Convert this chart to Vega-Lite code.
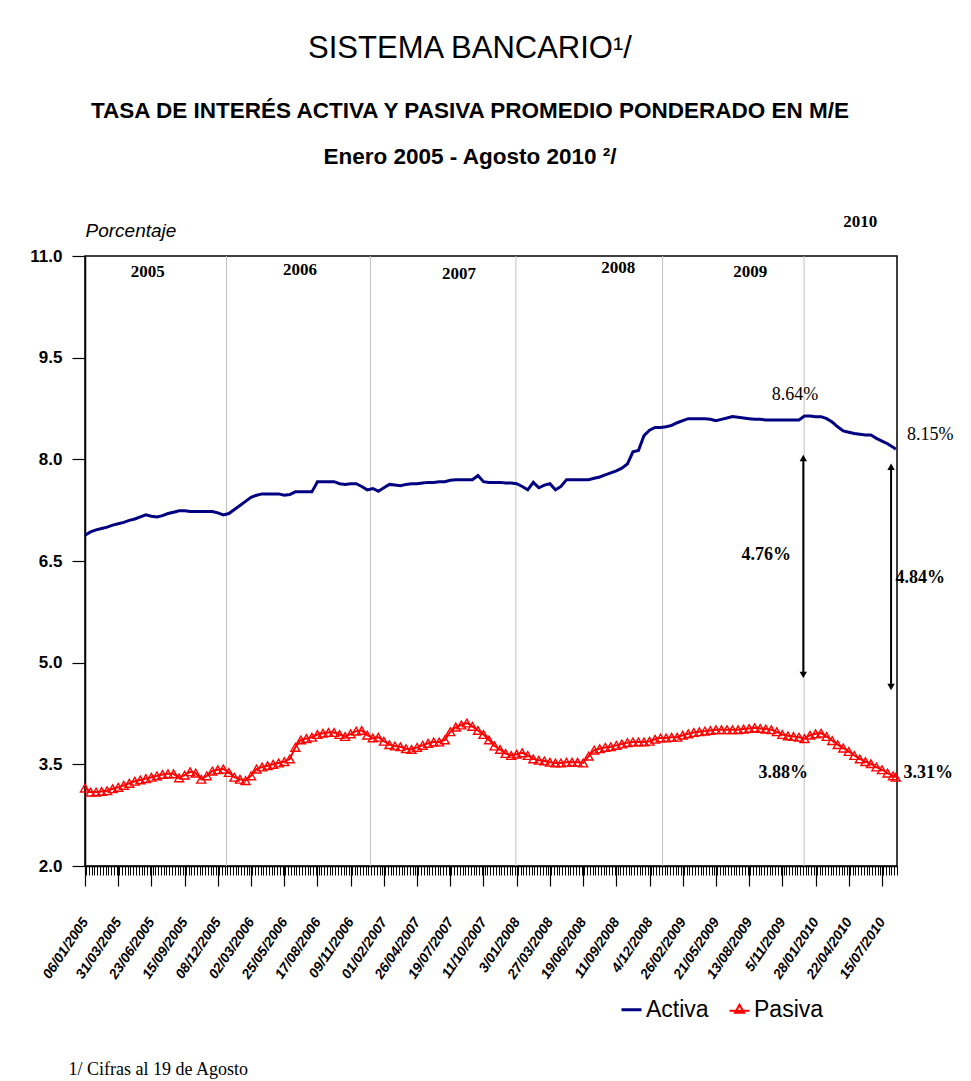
{
  "$schema": "https://vega.github.io/schema/vega-lite/v6.json",
  "width": 812,
  "height": 610,
  "autosize": {"type": "none"},
  "padding": {"left": 85, "top": 256, "right": 74, "bottom": 215},
  "background": "white",
  "config": {
    "view": {"stroke": "black", "strokeWidth": 1.5},
    "axis": {"domainColor": "black", "tickColor": "black", "labelColor": "black", "titleColor": "black"}
  },
  "title": {
    "text": "SISTEMA BANCARIO¹/",
    "subtitle": ["TASA DE INTERÉS ACTIVA Y PASIVA PROMEDIO PONDERADO EN M/E", "Enero 2005 - Agosto 2010  ²/"],
    "anchor": "middle",
    "frame": "group",
    "dx": -21,
    "font": "Liberation Sans",
    "fontSize": 31,
    "fontWeight": "normal",
    "color": "black",
    "subtitleFont": "Liberation Sans",
    "subtitleFontSize": 22.5,
    "subtitleFontWeight": "bold",
    "subtitleColor": "black",
    "subtitleLineHeight": 46,
    "subtitlePadding": 35,
    "offset": 44
  },
  "datasets": {
    "tasas": [
      {"fecha": "2005-01-06", "Activa": 6.88, "Pasiva": 3.15},
      {"fecha": "2005-01-20", "Activa": 6.93, "Pasiva": 3.09},
      {"fecha": "2005-02-03", "Activa": 6.96, "Pasiva": 3.09},
      {"fecha": "2005-02-17", "Activa": 6.98, "Pasiva": 3.10},
      {"fecha": "2005-03-03", "Activa": 7.00, "Pasiva": 3.11},
      {"fecha": "2005-03-17", "Activa": 7.03, "Pasiva": 3.14},
      {"fecha": "2005-03-31", "Activa": 7.05, "Pasiva": 3.16},
      {"fecha": "2005-04-14", "Activa": 7.07, "Pasiva": 3.19},
      {"fecha": "2005-04-28", "Activa": 7.10, "Pasiva": 3.22},
      {"fecha": "2005-05-12", "Activa": 7.12, "Pasiva": 3.25},
      {"fecha": "2005-05-26", "Activa": 7.15, "Pasiva": 3.27},
      {"fecha": "2005-06-09", "Activa": 7.18, "Pasiva": 3.29},
      {"fecha": "2005-06-23", "Activa": 7.16, "Pasiva": 3.31},
      {"fecha": "2005-07-07", "Activa": 7.15, "Pasiva": 3.33},
      {"fecha": "2005-07-21", "Activa": 7.17, "Pasiva": 3.35},
      {"fecha": "2005-08-04", "Activa": 7.20, "Pasiva": 3.36},
      {"fecha": "2005-08-18", "Activa": 7.22, "Pasiva": 3.36},
      {"fecha": "2005-09-01", "Activa": 7.24, "Pasiva": 3.30},
      {"fecha": "2005-09-15", "Activa": 7.24, "Pasiva": 3.34},
      {"fecha": "2005-09-29", "Activa": 7.23, "Pasiva": 3.39},
      {"fecha": "2005-10-13", "Activa": 7.23, "Pasiva": 3.37},
      {"fecha": "2005-10-27", "Activa": 7.23, "Pasiva": 3.28},
      {"fecha": "2005-11-10", "Activa": 7.23, "Pasiva": 3.33},
      {"fecha": "2005-11-24", "Activa": 7.23, "Pasiva": 3.40},
      {"fecha": "2005-12-08", "Activa": 7.21, "Pasiva": 3.42},
      {"fecha": "2005-12-22", "Activa": 7.18, "Pasiva": 3.43},
      {"fecha": "2006-01-05", "Activa": 7.20, "Pasiva": 3.38},
      {"fecha": "2006-01-19", "Activa": 7.26, "Pasiva": 3.31},
      {"fecha": "2006-02-02", "Activa": 7.32, "Pasiva": 3.28},
      {"fecha": "2006-02-16", "Activa": 7.38, "Pasiva": 3.26},
      {"fecha": "2006-03-02", "Activa": 7.44, "Pasiva": 3.33},
      {"fecha": "2006-03-16", "Activa": 7.47, "Pasiva": 3.43},
      {"fecha": "2006-03-30", "Activa": 7.49, "Pasiva": 3.46},
      {"fecha": "2006-04-13", "Activa": 7.49, "Pasiva": 3.48},
      {"fecha": "2006-04-27", "Activa": 7.49, "Pasiva": 3.50},
      {"fecha": "2006-05-11", "Activa": 7.49, "Pasiva": 3.52},
      {"fecha": "2006-05-25", "Activa": 7.47, "Pasiva": 3.54},
      {"fecha": "2006-06-08", "Activa": 7.48, "Pasiva": 3.58},
      {"fecha": "2006-06-22", "Activa": 7.52, "Pasiva": 3.75},
      {"fecha": "2006-07-06", "Activa": 7.52, "Pasiva": 3.86},
      {"fecha": "2006-07-20", "Activa": 7.52, "Pasiva": 3.88},
      {"fecha": "2006-08-03", "Activa": 7.52, "Pasiva": 3.90},
      {"fecha": "2006-08-17", "Activa": 7.67, "Pasiva": 3.94},
      {"fecha": "2006-08-31", "Activa": 7.67, "Pasiva": 3.96},
      {"fecha": "2006-09-14", "Activa": 7.67, "Pasiva": 3.97},
      {"fecha": "2006-09-28", "Activa": 7.67, "Pasiva": 3.97},
      {"fecha": "2006-10-12", "Activa": 7.64, "Pasiva": 3.94},
      {"fecha": "2006-10-26", "Activa": 7.63, "Pasiva": 3.91},
      {"fecha": "2006-11-09", "Activa": 7.64, "Pasiva": 3.95},
      {"fecha": "2006-11-23", "Activa": 7.64, "Pasiva": 3.99},
      {"fecha": "2006-12-07", "Activa": 7.60, "Pasiva": 4.00},
      {"fecha": "2006-12-21", "Activa": 7.55, "Pasiva": 3.93},
      {"fecha": "2007-01-04", "Activa": 7.57, "Pasiva": 3.89},
      {"fecha": "2007-01-18", "Activa": 7.53, "Pasiva": 3.90},
      {"fecha": "2007-02-01", "Activa": 7.58, "Pasiva": 3.84},
      {"fecha": "2007-02-15", "Activa": 7.63, "Pasiva": 3.79},
      {"fecha": "2007-03-01", "Activa": 7.62, "Pasiva": 3.77},
      {"fecha": "2007-03-15", "Activa": 7.61, "Pasiva": 3.76},
      {"fecha": "2007-03-29", "Activa": 7.63, "Pasiva": 3.73},
      {"fecha": "2007-04-12", "Activa": 7.64, "Pasiva": 3.72},
      {"fecha": "2007-04-26", "Activa": 7.64, "Pasiva": 3.75},
      {"fecha": "2007-05-10", "Activa": 7.65, "Pasiva": 3.78},
      {"fecha": "2007-05-24", "Activa": 7.66, "Pasiva": 3.81},
      {"fecha": "2007-06-07", "Activa": 7.66, "Pasiva": 3.83},
      {"fecha": "2007-06-21", "Activa": 7.67, "Pasiva": 3.83},
      {"fecha": "2007-07-05", "Activa": 7.67, "Pasiva": 3.86},
      {"fecha": "2007-07-19", "Activa": 7.69, "Pasiva": 3.98},
      {"fecha": "2007-08-02", "Activa": 7.70, "Pasiva": 4.05},
      {"fecha": "2007-08-16", "Activa": 7.70, "Pasiva": 4.08},
      {"fecha": "2007-08-30", "Activa": 7.70, "Pasiva": 4.11},
      {"fecha": "2007-09-13", "Activa": 7.70, "Pasiva": 4.06},
      {"fecha": "2007-09-27", "Activa": 7.76, "Pasiva": 4.00},
      {"fecha": "2007-10-11", "Activa": 7.67, "Pasiva": 3.94},
      {"fecha": "2007-10-25", "Activa": 7.66, "Pasiva": 3.86},
      {"fecha": "2007-11-08", "Activa": 7.66, "Pasiva": 3.77},
      {"fecha": "2007-11-22", "Activa": 7.66, "Pasiva": 3.72},
      {"fecha": "2007-12-06", "Activa": 7.65, "Pasiva": 3.66},
      {"fecha": "2007-12-20", "Activa": 7.65, "Pasiva": 3.63},
      {"fecha": "2008-01-03", "Activa": 7.64, "Pasiva": 3.65},
      {"fecha": "2008-01-17", "Activa": 7.60, "Pasiva": 3.67},
      {"fecha": "2008-01-31", "Activa": 7.55, "Pasiva": 3.63},
      {"fecha": "2008-02-14", "Activa": 7.66, "Pasiva": 3.58},
      {"fecha": "2008-02-28", "Activa": 7.58, "Pasiva": 3.56},
      {"fecha": "2008-03-13", "Activa": 7.62, "Pasiva": 3.55},
      {"fecha": "2008-03-27", "Activa": 7.64, "Pasiva": 3.53},
      {"fecha": "2008-04-10", "Activa": 7.55, "Pasiva": 3.52},
      {"fecha": "2008-04-24", "Activa": 7.60, "Pasiva": 3.52},
      {"fecha": "2008-05-08", "Activa": 7.70, "Pasiva": 3.53},
      {"fecha": "2008-05-22", "Activa": 7.70, "Pasiva": 3.53},
      {"fecha": "2008-06-05", "Activa": 7.70, "Pasiva": 3.53},
      {"fecha": "2008-06-19", "Activa": 7.70, "Pasiva": 3.52},
      {"fecha": "2008-07-03", "Activa": 7.70, "Pasiva": 3.62},
      {"fecha": "2008-07-17", "Activa": 7.72, "Pasiva": 3.71},
      {"fecha": "2008-07-31", "Activa": 7.74, "Pasiva": 3.73},
      {"fecha": "2008-08-14", "Activa": 7.77, "Pasiva": 3.75},
      {"fecha": "2008-08-28", "Activa": 7.80, "Pasiva": 3.76},
      {"fecha": "2008-09-11", "Activa": 7.83, "Pasiva": 3.78},
      {"fecha": "2008-09-25", "Activa": 7.87, "Pasiva": 3.80},
      {"fecha": "2008-10-09", "Activa": 7.93, "Pasiva": 3.82},
      {"fecha": "2008-10-23", "Activa": 8.11, "Pasiva": 3.83},
      {"fecha": "2008-11-06", "Activa": 8.13, "Pasiva": 3.83},
      {"fecha": "2008-11-20", "Activa": 8.35, "Pasiva": 3.83},
      {"fecha": "2008-12-04", "Activa": 8.43, "Pasiva": 3.84},
      {"fecha": "2008-12-18", "Activa": 8.47, "Pasiva": 3.87},
      {"fecha": "2009-01-01", "Activa": 8.47, "Pasiva": 3.89},
      {"fecha": "2009-01-15", "Activa": 8.48, "Pasiva": 3.89},
      {"fecha": "2009-01-29", "Activa": 8.50, "Pasiva": 3.90},
      {"fecha": "2009-02-12", "Activa": 8.54, "Pasiva": 3.90},
      {"fecha": "2009-02-26", "Activa": 8.57, "Pasiva": 3.93},
      {"fecha": "2009-03-12", "Activa": 8.60, "Pasiva": 3.95},
      {"fecha": "2009-03-26", "Activa": 8.60, "Pasiva": 3.97},
      {"fecha": "2009-04-09", "Activa": 8.60, "Pasiva": 3.98},
      {"fecha": "2009-04-23", "Activa": 8.60, "Pasiva": 3.99},
      {"fecha": "2009-05-07", "Activa": 8.59, "Pasiva": 4.00},
      {"fecha": "2009-05-21", "Activa": 8.57, "Pasiva": 4.01},
      {"fecha": "2009-06-04", "Activa": 8.59, "Pasiva": 4.01},
      {"fecha": "2009-06-18", "Activa": 8.61, "Pasiva": 4.01},
      {"fecha": "2009-07-02", "Activa": 8.63, "Pasiva": 4.01},
      {"fecha": "2009-07-16", "Activa": 8.62, "Pasiva": 4.01},
      {"fecha": "2009-07-30", "Activa": 8.61, "Pasiva": 4.02},
      {"fecha": "2009-08-13", "Activa": 8.60, "Pasiva": 4.03},
      {"fecha": "2009-08-27", "Activa": 8.59, "Pasiva": 4.04},
      {"fecha": "2009-09-10", "Activa": 8.59, "Pasiva": 4.03},
      {"fecha": "2009-09-24", "Activa": 8.58, "Pasiva": 4.02},
      {"fecha": "2009-10-08", "Activa": 8.58, "Pasiva": 4.01},
      {"fecha": "2009-10-22", "Activa": 8.58, "Pasiva": 3.98},
      {"fecha": "2009-11-05", "Activa": 8.58, "Pasiva": 3.94},
      {"fecha": "2009-11-19", "Activa": 8.58, "Pasiva": 3.92},
      {"fecha": "2009-12-03", "Activa": 8.58, "Pasiva": 3.91},
      {"fecha": "2009-12-17", "Activa": 8.58, "Pasiva": 3.90},
      {"fecha": "2009-12-31", "Activa": 8.64, "Pasiva": 3.88},
      {"fecha": "2010-01-14", "Activa": 8.64, "Pasiva": 3.93},
      {"fecha": "2010-01-28", "Activa": 8.63, "Pasiva": 3.95},
      {"fecha": "2010-02-11", "Activa": 8.63, "Pasiva": 3.96},
      {"fecha": "2010-02-25", "Activa": 8.60, "Pasiva": 3.91},
      {"fecha": "2010-03-11", "Activa": 8.55, "Pasiva": 3.85},
      {"fecha": "2010-03-25", "Activa": 8.48, "Pasiva": 3.79},
      {"fecha": "2010-04-08", "Activa": 8.42, "Pasiva": 3.74},
      {"fecha": "2010-04-22", "Activa": 8.40, "Pasiva": 3.69},
      {"fecha": "2010-05-06", "Activa": 8.38, "Pasiva": 3.63},
      {"fecha": "2010-05-20", "Activa": 8.37, "Pasiva": 3.58},
      {"fecha": "2010-06-03", "Activa": 8.36, "Pasiva": 3.54},
      {"fecha": "2010-06-17", "Activa": 8.36, "Pasiva": 3.51},
      {"fecha": "2010-07-01", "Activa": 8.31, "Pasiva": 3.46},
      {"fecha": "2010-07-15", "Activa": 8.27, "Pasiva": 3.42},
      {"fecha": "2010-07-29", "Activa": 8.23, "Pasiva": 3.37},
      {"fecha": "2010-08-12", "Activa": 8.18, "Pasiva": 3.33},
      {"fecha": "2010-08-19", "Activa": 8.15, "Pasiva": 3.31}
    ],
    "separadores": [
      {"fecha": "2005-12-30"},
      {"fecha": "2006-12-29"},
      {"fecha": "2008-01-01"},
      {"fecha": "2009-01-06"},
      {"fecha": "2009-12-30"}
    ],
    "anios": [
      {"fecha": "2005-06-14", "valor": 10.76, "texto": "2005"},
      {"fecha": "2006-07-04", "valor": 10.79, "texto": "2006"},
      {"fecha": "2007-08-10", "valor": 10.73, "texto": "2007"},
      {"fecha": "2008-09-16", "valor": 10.82, "texto": "2008"},
      {"fecha": "2009-08-16", "valor": 10.76, "texto": "2009"},
      {"fecha": "2010-05-21", "valor": 11.50, "texto": "2010"}
    ],
    "etiquetas": [
      {"fecha": "2009-12-07", "valor": 8.95, "texto": "8.64%", "grupo": "activa"},
      {"fecha": "2010-11-14", "valor": 8.36, "texto": "8.15%", "grupo": "activa"},
      {"fecha": "2009-09-25", "valor": 6.59, "texto": "4.76%", "grupo": "diferencia"},
      {"fecha": "2010-10-20", "valor": 6.25, "texto": "4.84%", "grupo": "diferencia"},
      {"fecha": "2009-11-07", "valor": 3.37, "texto": "3.88%", "grupo": "pasiva"},
      {"fecha": "2010-11-09", "valor": 3.37, "texto": "3.31%", "grupo": "pasiva"}
    ],
    "flechas": [
      {"fecha": "2009-12-28", "desde": 4.82, "hasta": 8.02},
      {"fecha": "2010-08-07", "desde": 4.64, "hasta": 7.89}
    ]
  },
  "layer": [
    {
      "data": {"name": "separadores"},
      "mark": {"type": "rule", "color": "#c0c0c0", "strokeWidth": 1},
      "encoding": {
        "x": {
          "field": "fecha", "type": "temporal",
          "scale": {"type": "utc", "domain": [{"year": 2005, "month": 1, "date": 6, "utc": true}, {"year": 2010, "month": 8, "date": 22, "utc": true}]},
          "axis": {"orient": "bottom", "tickCount": {"interval": "week", "step": 1}, "labels": false, "domain": false, "grid": false, "ticks": true, "tickSize": 9, "tickWidth": 1, "title": null}
        }
      }
    },
    {
      "data": {"name": "tasas"},
      "mark": {"type": "line", "strokeWidth": 3},
      "encoding": {
        "x": {
          "field": "fecha", "type": "temporal",
          "axis": {
            "orient": "bottom",
            "values": [
              {"year": 2005, "month": 1, "date": 6, "utc": true},
              {"year": 2005, "month": 3, "date": 31, "utc": true},
              {"year": 2005, "month": 6, "date": 23, "utc": true},
              {"year": 2005, "month": 9, "date": 15, "utc": true},
              {"year": 2005, "month": 12, "date": 8, "utc": true},
              {"year": 2006, "month": 3, "date": 2, "utc": true},
              {"year": 2006, "month": 5, "date": 25, "utc": true},
              {"year": 2006, "month": 8, "date": 17, "utc": true},
              {"year": 2006, "month": 11, "date": 9, "utc": true},
              {"year": 2007, "month": 2, "date": 1, "utc": true},
              {"year": 2007, "month": 4, "date": 26, "utc": true},
              {"year": 2007, "month": 7, "date": 19, "utc": true},
              {"year": 2007, "month": 10, "date": 11, "utc": true},
              {"year": 2008, "month": 1, "date": 3, "utc": true},
              {"year": 2008, "month": 3, "date": 27, "utc": true},
              {"year": 2008, "month": 6, "date": 19, "utc": true},
              {"year": 2008, "month": 9, "date": 11, "utc": true},
              {"year": 2008, "month": 12, "date": 4, "utc": true},
              {"year": 2009, "month": 2, "date": 26, "utc": true},
              {"year": 2009, "month": 5, "date": 21, "utc": true},
              {"year": 2009, "month": 8, "date": 13, "utc": true},
              {"year": 2009, "month": 11, "date": 5, "utc": true},
              {"year": 2010, "month": 1, "date": 28, "utc": true},
              {"year": 2010, "month": 4, "date": 22, "utc": true},
              {"year": 2010, "month": 7, "date": 15, "utc": true}
            ],
            "labelExpr": "utcFormat(datum.value, '%d/%m/%Y') == '03/01/2008' ? '3/01/2008' : utcFormat(datum.value, '%d/%m/%Y') == '04/12/2008' ? '4/12/2008' : utcFormat(datum.value, '%d/%m/%Y') == '05/11/2009' ? '5/11/2009' : utcFormat(datum.value, '%d/%m/%Y')",
            "labelOverlap": false,
            "labelBound": false,
            "labelFlush": false,
            "tickSize": 20,
            "tickWidth": 1.2,
            "labelAngle": -56,
            "labelAlign": "right",
            "labelBaseline": "middle",
            "labelFont": "Liberation Sans",
            "labelFontSize": 14,
            "labelFontStyle": "italic",
            "labelFontWeight": "bold",
            "labelPadding": 33,
            "grid": false,
            "domain": true,
            "domainWidth": 1.5,
            "title": "1/ Cifras al 19 de Agosto",
            "titleFont": "Liberation Serif",
            "titleFontSize": 18,
            "titleFontWeight": "normal",
            "titleAnchor": "start",
            "titleAlign": "left",
            "titleBaseline": "middle",
            "titleX": -17,
            "titleY": 203
          }
        },
        "y": {
          "field": "Activa", "type": "quantitative",
          "scale": {"domain": [2, 11], "zero": false, "nice": false},
          "axis": {
            "orient": "left",
            "values": [2, 3.5, 5, 6.5, 8, 9.5, 11],
            "format": ".1f",
            "grid": false,
            "ticks": true,
            "labels": true,
            "domain": true,
            "tickSize": 13,
            "tickWidth": 1.2,
            "labelPadding": 10,
            "labelFont": "Liberation Sans",
            "labelFontSize": 17,
            "labelFontWeight": "bold",
            "domainWidth": 1.5,
            "title": "Porcentaje",
            "titleAngle": 0,
            "titleAlign": "left",
            "titleBaseline": "alphabetic",
            "titleX": 0,
            "titleY": -20,
            "titleFont": "Liberation Sans",
            "titleFontSize": 19,
            "titleFontStyle": "italic",
            "titleFontWeight": "normal"
          }
        },
        "color": {
          "datum": "Activa",
          "scale": {"domain": ["Activa", "Pasiva"], "range": ["#000080", "#ff0000"]},
          "legend": {
            "title": null,
            "orient": "none",
            "legendX": 535,
            "legendY": 742,
            "direction": "horizontal",
            "labelFont": "Liberation Sans",
            "labelFontSize": 23,
            "labelColor": "black",
            "labelOffset": 3,
            "symbolSize": 400,
            "symbolStrokeWidth": 3,
            "columnPadding": 16,
            "encode": {
              "symbols": {
                "update": {
                  "shape": {"signal": "datum.value === 'Pasiva' ? 'M-1,0.1H1M0,-0.5L0.45,0.3H-0.45Z' : 'stroke'"},
                  "fill": {"value": "transparent"},
                  "strokeWidth": {"signal": "datum.value === 'Pasiva' ? 2 : 3"}
                }
              }
            }
          }
        }
      }
    },
    {
      "data": {"name": "tasas"},
      "mark": {"type": "line", "strokeWidth": 2},
      "encoding": {
        "x": {"field": "fecha", "type": "temporal", "axis": null},
        "y": {"field": "Pasiva", "type": "quantitative", "axis": null},
        "color": {"datum": "Pasiva"}
      }
    },
    {
      "data": {"name": "tasas"},
      "mark": {"type": "point", "shape": "triangle-up", "filled": false, "color": "#ff0000", "size": 80, "strokeWidth": 1.4, "opacity": 1},
      "encoding": {
        "x": {"field": "fecha", "type": "temporal", "axis": null},
        "y": {"field": "Pasiva", "type": "quantitative", "axis": null}
      }
    },
    {
      "data": {"name": "anios"},
      "mark": {"type": "text", "font": "Liberation Serif", "fontSize": 17, "fontWeight": "bold", "color": "black", "baseline": "middle", "align": "center"},
      "encoding": {
        "x": {"field": "fecha", "type": "temporal", "axis": null},
        "y": {"field": "valor", "type": "quantitative", "axis": null},
        "text": {"field": "texto"}
      }
    },
    {
      "data": {"name": "flechas"},
      "mark": {"type": "rule", "color": "black", "strokeWidth": 2},
      "encoding": {
        "x": {"field": "fecha", "type": "temporal", "axis": null},
        "y": {"field": "desde", "type": "quantitative", "axis": null},
        "y2": {"field": "hasta"}
      }
    },
    {
      "data": {"name": "flechas"},
      "mark": {"type": "point", "shape": "triangle-up", "filled": true, "color": "black", "size": 55, "opacity": 1},
      "encoding": {
        "x": {"field": "fecha", "type": "temporal", "axis": null},
        "y": {"field": "hasta", "type": "quantitative", "axis": null}
      }
    },
    {
      "data": {"name": "flechas"},
      "mark": {"type": "point", "shape": "triangle-down", "filled": true, "color": "black", "size": 55, "opacity": 1},
      "encoding": {
        "x": {"field": "fecha", "type": "temporal", "axis": null},
        "y": {"field": "desde", "type": "quantitative", "axis": null}
      }
    },
    {
      "data": {"name": "etiquetas"},
      "transform": [{"filter": "datum.grupo === 'activa'"}],
      "mark": {"type": "text", "font": "Liberation Serif", "fontSize": 18, "fontWeight": "normal", "color": "black", "baseline": "middle", "align": "center"},
      "encoding": {
        "x": {"field": "fecha", "type": "temporal", "axis": null},
        "y": {"field": "valor", "type": "quantitative", "axis": null},
        "text": {"field": "texto"}
      }
    },
    {
      "data": {"name": "etiquetas"},
      "transform": [{"filter": "datum.grupo !== 'activa'"}],
      "mark": {"type": "text", "font": "Liberation Serif", "fontSize": 18, "fontWeight": "bold", "color": "black", "baseline": "middle", "align": "center"},
      "encoding": {
        "x": {"field": "fecha", "type": "temporal", "axis": null},
        "y": {"field": "valor", "type": "quantitative", "axis": null},
        "text": {"field": "texto"}
      }
    }
  ],
  "resolve": {"axis": {"x": "independent", "y": "independent"}}
}
